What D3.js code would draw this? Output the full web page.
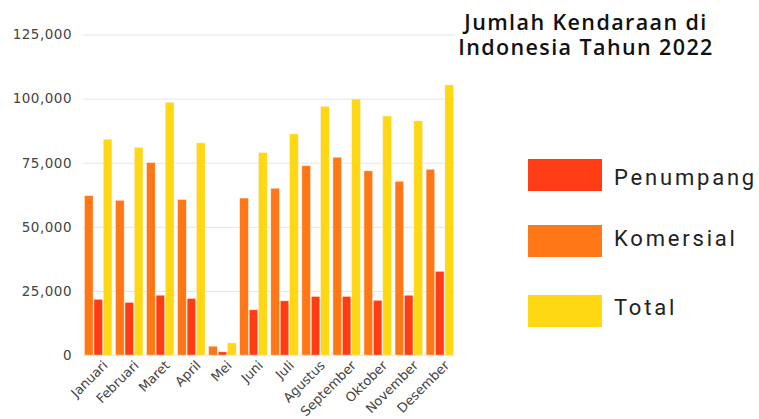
<!DOCTYPE html>
<html>
<head>
<meta charset="utf-8">
<script src="https://d3js.org/d3.v7.min.js"></script>
<style>
  body { margin: 0; background: #ffffff; }
  .tick line { stroke: #e6e6e6; }
  .domain { display: none; }
</style>
</head>
<body>
<svg width="759" height="419"></svg>
<script>
// data (vehicles per month, 2022)
var months = ["Januari", "Februari", "Maret", "April", "Mei", "Juni",
              "Juli", "Agustus", "September", "Oktober", "November", "Desember"];
var komersial = [62100, 60300, 75000, 60600, 3400, 61200, 65000, 73800, 77100, 71800, 67700, 72400];
var penumpang = [21700, 20500, 23300, 22000, 1200, 17600, 21100, 22800, 22800, 21300, 23300, 32600];
var total     = [84100, 80900, 98500, 82700, 4700, 78900, 86200, 96900, 99800, 93200, 91300, 105300];
var yTicks = [0, 25000, 50000, 75000, 100000, 125000];

var series = ["Komersial", "Penumpang", "Total"];
var legendOrder = ["Penumpang", "Komersial", "Total"];
var colors = { Penumpang: "#ff3c14", Komersial: "#ff7716", Total: "#ffd814" };
var values = { Komersial: komersial, Penumpang: penumpang, Total: total };

var svg = d3.select("svg");
var plotL = 83, plotR = 455, plotT = 34.5, plotB = 355;

var x0 = d3.scaleBand().domain(months).range([plotL, plotR]).paddingInner(0.06).paddingOuter(0.02);
var x1 = d3.scaleBand().domain(series).range([0, x0.bandwidth()]).padding(0.1);
var y = d3.scaleLinear().domain([0, 125000]).range([plotB, plotT]);

// gridlines + y labels
var yAxis = svg.append("g")
    .attr("transform", "translate(" + plotL + ",0)")
    .call(d3.axisLeft(y).tickValues(yTicks).tickSize(-(plotR - plotL)).tickPadding(11)
        .tickFormat(d3.format(",")));
yAxis.selectAll(".tick text")
    .style("font-family", "DejaVu Sans")
    .style("font-size", "13.5px")
    .style("letter-spacing", "0.5px")
    .style("fill", "#444");

// bars
var groups = svg.append("g").selectAll("g")
    .data(months)
    .join("g")
    .attr("transform", function(d) { return "translate(" + x0(d) + ",0)"; });

groups.selectAll("rect")
    .data(function(d, i) { return series.map(function(s) { return { key: s, value: values[s][i] }; }); })
    .join("rect")
    .attr("x", function(d) { return x1(d.key); })
    .attr("y", function(d) { return y(d.value); })
    .attr("width", x1.bandwidth())
    .attr("height", function(d) { return y(0) - y(d.value); })
    .attr("fill", function(d) { return colors[d.key]; })
    .attr("stroke", "#ffe7c8")
    .attr("stroke-width", 0.4);

// x labels
svg.append("g").selectAll("text")
    .data(months)
    .join("text")
    .attr("transform", function(d) {
        return "translate(" + (x0(d) + x0.bandwidth() / 2 + 7) + "," + 363 + ") rotate(-45)";
    })
    .attr("text-anchor", "end")
    .attr("dy", "0.35em")
    .style("font-family", "DejaVu Sans")
    .style("font-size", "13px")
    .style("fill", "#444")
    .text(function(d) { return d; });

// title
var titleLines = ["Jumlah Kendaraan di", "Indonesia Tahun 2022"];
svg.append("g").selectAll("text")
    .data(titleLines)
    .join("text")
    .attr("x", 586)
    .attr("y", function(d, i) { return 30 + i * 25; })
    .attr("text-anchor", "middle")
    .style("font-family", "Open Sans")
    .style("font-weight", "600")
    .style("font-size", "21.5px")
    .style("letter-spacing", "1.4px")
    .style("fill", "#111")
    .text(function(d) { return d; });

// legend
var swatchY = [159, 225, 295];
var labelY = [185, 246, 315];
var legend = svg.append("g").selectAll("g")
    .data(legendOrder)
    .join("g");
legend.append("rect")
    .attr("x", 528)
    .attr("y", function(d, i) { return swatchY[i]; })
    .attr("width", 74)
    .attr("height", 32)
    .attr("fill", function(d) { return colors[d]; });
legend.append("text")
    .attr("x", 614)
    .attr("y", function(d, i) { return labelY[i]; })
    .style("font-family", "Roboto")
    .style("font-size", "22px")
    .style("letter-spacing", "2.8px")
    .style("fill", "#222")
    .text(function(d) { return d; });
</script>
</body>
</html>
